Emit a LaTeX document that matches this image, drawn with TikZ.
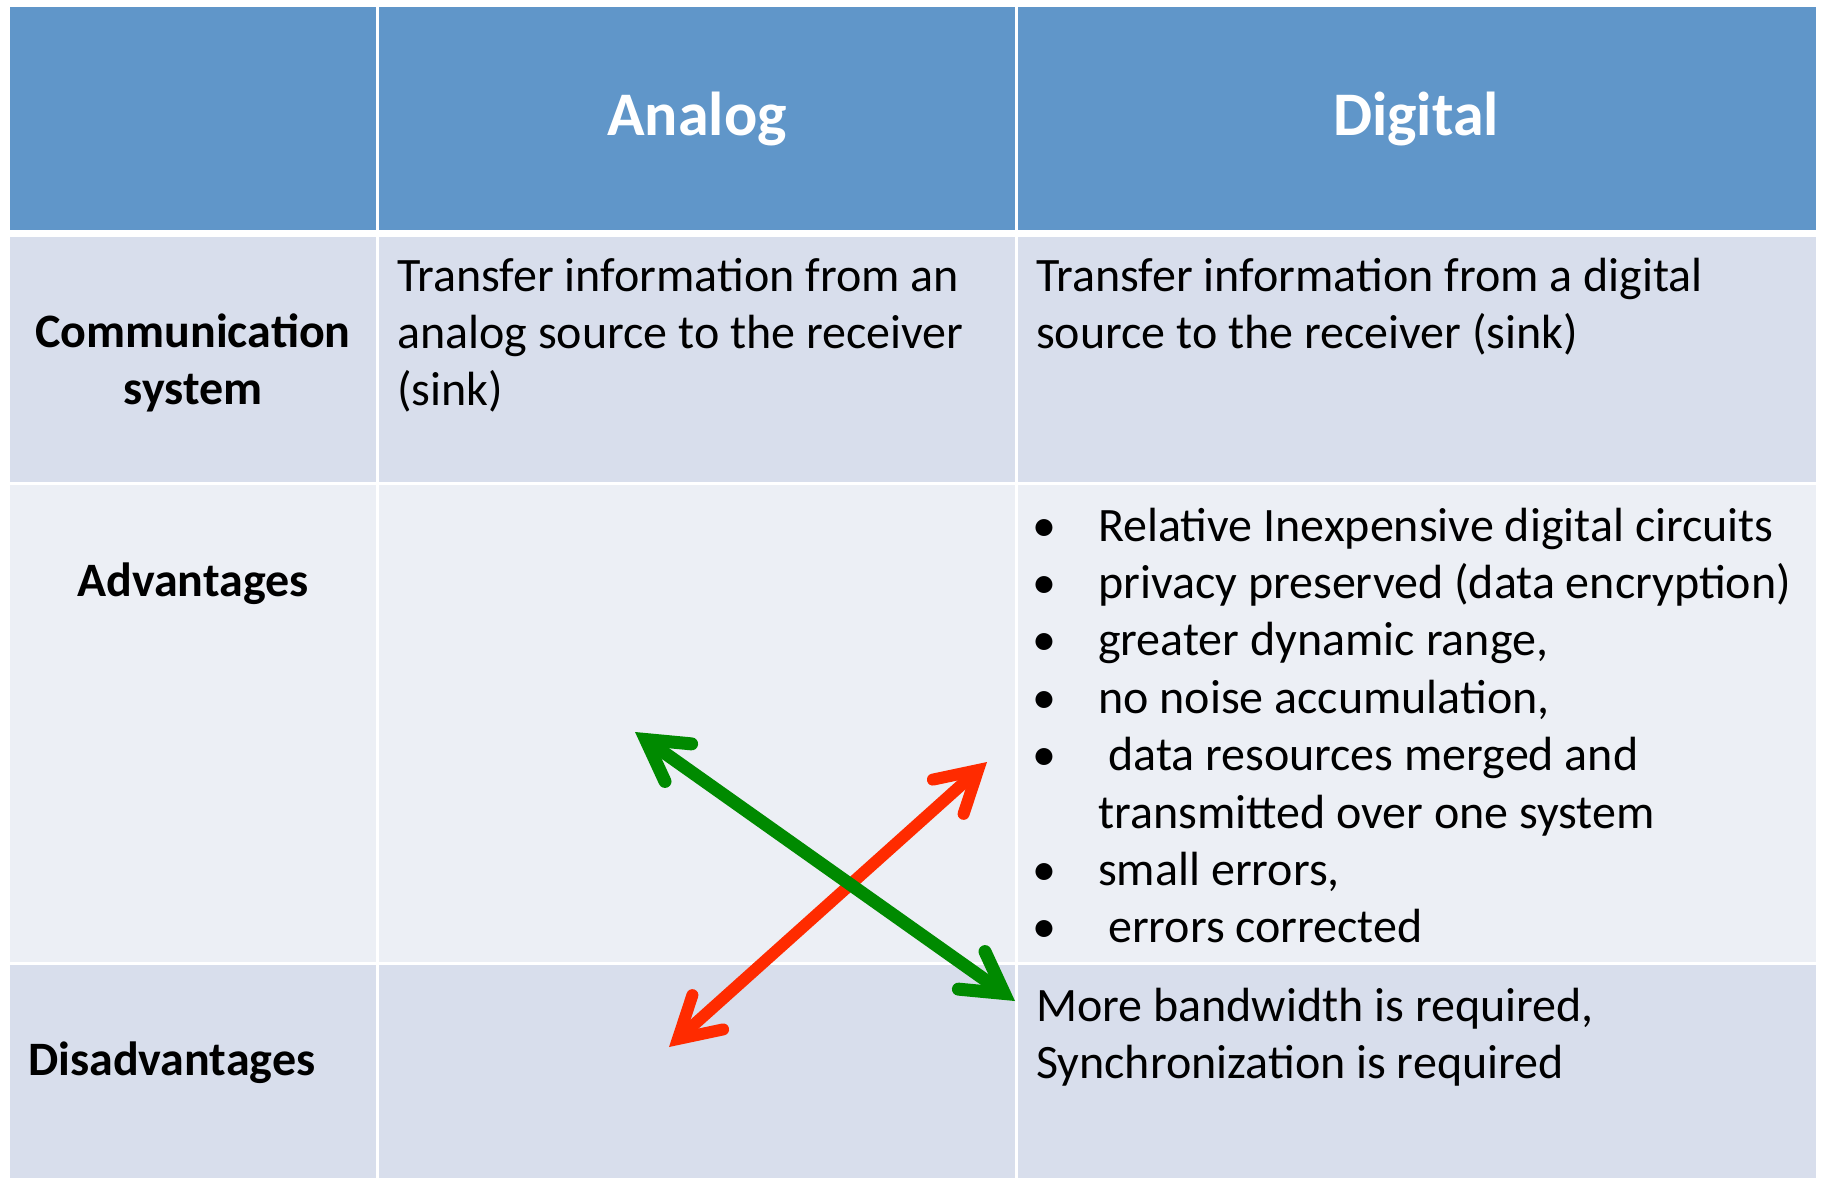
\documentclass[tikz,border=0pt]{standalone}
\usepackage{fontspec}
\setmainfont{Carlito}
\usetikzlibrary{arrows.meta}

\definecolor{cabecera}{HTML}{6096C9}
\definecolor{filaA}{HTML}{D8DEEC}
\definecolor{filaB}{HTML}{ECEFF5}
\definecolor{verde}{HTML}{008A00}
\definecolor{rojo}{HTML}{FF2B00}

\newcommand{\punto}{\makebox[66pt][l]{\textbullet}}

\tikzset{
  celda/.style={inner sep=0pt, align=left, font=\fontsize{48}{57.4}\selectfont},
  etiqueta/.style={inner sep=0pt, align=center, font=\fontsize{48}{57.4}\selectfont\bfseries},
  titulo/.style={inner sep=0pt, text=white, font=\fontsize{62}{70}\selectfont\bfseries},
  flecha/.style={line width=#1, >={Straight Barb[length=40pt,width=46pt,line cap=round,line join=miter]}, <->},
}

\begin{document}
\begin{tikzpicture}[x=1pt,y=-1pt]
      % Fondo y marco
      \fill[white] (0,0) rectangle (1822,1178);
      \useasboundingbox (0,0) rectangle (1822,1178);

      % Filas de la tabla
      \fill[cabecera] (9.5,7) rectangle (1815.5,230);
      \fill[filaA] (9.5,237) rectangle (1815.5,481.5);
      \fill[filaB] (9.5,485) rectangle (1815.5,961.5);
      \fill[filaA] (9.5,964.5) rectangle (1815.5,1178);

      % Separadores de columnas
      \foreach \x in {377.7, 1016.3} {
        \draw[white, line width=2.7pt] (\x,7) -- (\x,1178);
      }

      % Cabecera
      \node[titulo, anchor=base] (analog) at (697,135) {Analog};
      \node[titulo, anchor=base] (digital) at (1416,135) {Digital};

      % Primera columna
      \node[etiqueta, anchor=north] (comsis) at (193,306.8) {\strut Communication\\system};
      \node[etiqueta, anchor=base] (ventajas) at (193,596) {Advantages};
      \node[etiqueta, anchor=base west] (desventajas) at (28,1075) {Disadvantages};

      % Textos de las celdas
      \node[celda, anchor=north west] (comanalog) at (397,250.8)
        {\strut Transfer information from an\\analog source to the receiver\\(sink)};
      \node[celda, anchor=north west] (comdigital) at (1036,250.8)
        {\strut Transfer information from a digital\\source to the receiver (sink)};
      \node[celda, anchor=north west] (ventdigital) at (1032,500.8)
        {\strut\punto Relative Inexpensive digital circuits\\
         \punto privacy preserved (data encryption)\\
         \punto greater dynamic range,\\
         \punto no noise accumulation,\\
         \punto\hspace*{10pt}data resources merged and\\
         \hspace*{66pt}transmitted over one system\\
         \punto small errors,\\
         \punto\hspace*{10pt}errors corrected};
      \node[celda, anchor=north west] (desvdigital) at (1036,980.8)
        {\strut More bandwidth is required,\\Synchronization is required};

      % Flechas
      \coordinate (g1) at (635,732);
      \coordinate (g2) at (1015,1001);
      \coordinate (r1) at (987,762);
      \coordinate (r2) at (669,1047);
      \draw[flecha=12pt, rojo] (r2) -- (r1);
      \draw[flecha=13pt, verde] (g1) -- (g2);
\end{tikzpicture}
\end{document}
